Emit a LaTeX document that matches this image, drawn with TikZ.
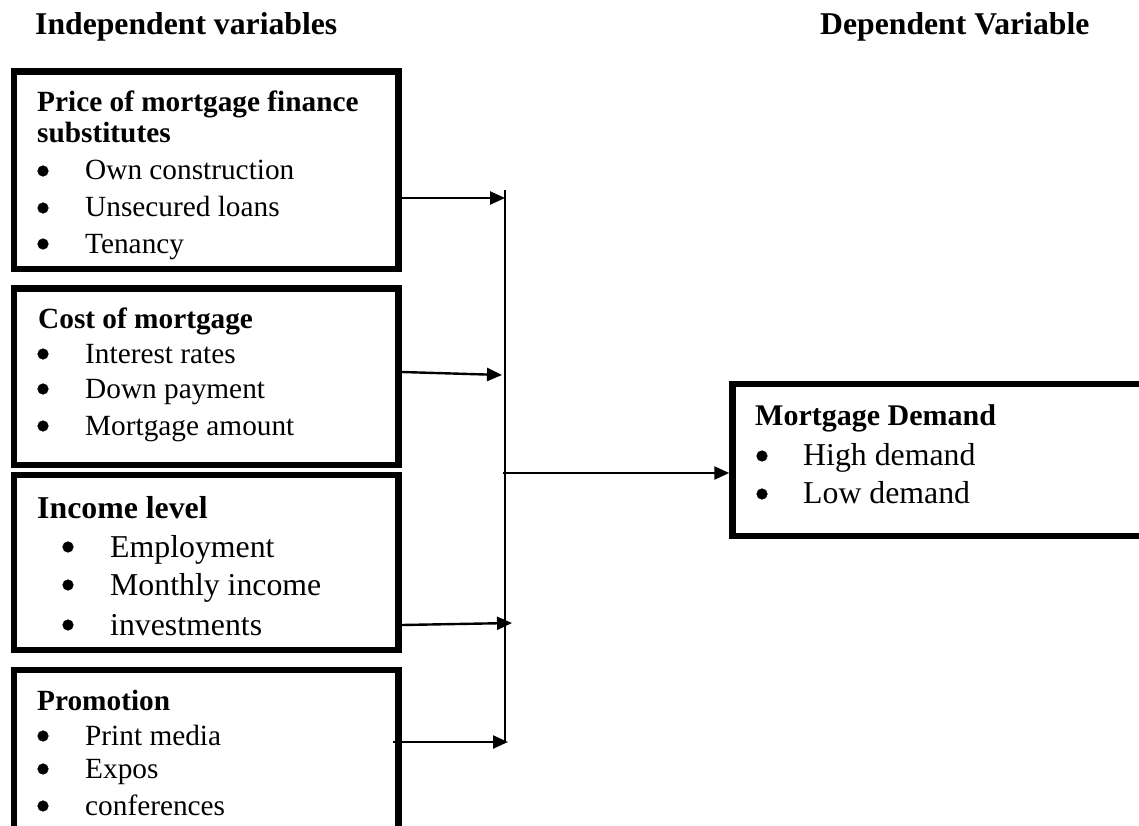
\documentclass[tikz,border=0pt]{standalone}
\usepackage{fontspec}
\setmainfont{Liberation Serif}
\usetikzlibrary{arrows.meta}
\tikzset{
  box/.style={draw=black, line width=6.5pt, inner sep=0pt, fill=none},
  txt/.style={inner sep=0pt, anchor=base west, font=\fontsize{29.3}{33}\selectfont},
  txtb/.style={txt, font=\fontsize{29.3}{33}\selectfont\bfseries},
  big/.style={inner sep=0pt, anchor=base west, font=\fontsize{31.8}{36}\selectfont},
  bigb/.style={big, font=\fontsize{31.8}{36}\selectfont\bfseries},
  head/.style={inner sep=0pt, anchor=base west, font=\fontsize{31.7}{36}\selectfont\bfseries},
  conn/.style={line width=2.4pt, -{Triangle[length=15pt,width=13pt]}},
  bus/.style={line width=1.6pt},
  bullet/.style={fill=black, draw=black, line width=0.5pt},
}
\newcommand{\bul}[2]{\path[bullet] (#1,#2) circle[radius=5.3pt];}
\begin{document}
\begin{tikzpicture}[x=1pt,y=-1pt]
\clip (0,0) rectangle (1139,826);
\fill[white] (0,0) rectangle (1139,826);

% headers
\node[head] (h1) at (35,35) {Independent variables};
\node[head] (h2) at (820,35) {Dependent Variable};

% boxes
\node[box, minimum width=384.5pt, minimum height=197.5pt] (b1) at (206.25,170.25) {};
\node[box, minimum width=384.5pt, minimum height=176.5pt] (b2) at (206.25,376.75) {};
\node[box, minimum width=384.5pt, minimum height=175pt] (b3) at (206.25,562.5) {};
\node[box, minimum width=384.5pt, minimum height=180pt] (b4) at (206.25,760) {};
\node[box, minimum width=417.5pt, minimum height=152pt] (d) at (941.25,460) {};

% box 1 text
\begin{scope}
\clip (17,75) rectangle (395,263);
\node[txtb] (t11) at (37,112) {Price of mortgage finance};
\node[txtb] (t12) at (37,143) {substitutes};
\node[txt] (t13) at (85,180) {Own construction};
\node[txt] (t14) at (85,217) {Unsecured loans};
\node[txt] (t15) at (85,253) {Tenancy};
\bul{43}{171}\bul{43}{208}\bul{43}{244}
\end{scope}

% box 2 text
\node[txtb] (t21) at (38,328) {Cost of mortgage};
\node[txt] (t22) at (85,363) {Interest rates};
\node[txt] (t23) at (85,398) {Down payment};
\node[txt] (t24) at (85,435) {Mortgage amount};
\bul{43}{354}\bul{43}{389}\bul{43}{426}

% box 3 text
\node[bigb] (t31) at (37,518) {Income level};
\node[big] (t32) at (110,557) {Employment};
\node[big] (t33) at (110,595) {Monthly income};
\node[big] (t34) at (110,635) {investments};
\bul{68}{547}\bul{68}{585}\bul{68}{625}

% box 4 text
\node[txtb] (t41) at (37,710) {Promotion};
\node[txt] (t42) at (85,745) {Print media};
\node[txt] (t43) at (85,778) {Expos};
\node[txt] (t44) at (85,815) {conferences};
\bul{43}{736}\bul{43}{769}\bul{43}{806}

% dependent box text
\node[inner sep=0pt, anchor=base west, font=\fontsize{30}{34}\selectfont\bfseries] (d1) at (755,425) {Mortgage Demand};
\node[big] (d2) at (803,465) {High demand};
\node[big] (d3) at (803,503) {Low demand};
\bul{762}{456}\bul{762}{494}

% connectors
\coordinate (bt) at (505,190);
\coordinate (bb) at (505,742);
\coordinate (e1) at (505,198);
\coordinate (e2) at (502,375);
\coordinate (e3) at (512,623);
\coordinate (e4) at (508,742);
\coordinate (j) at (503,473);
\draw[bus] (bt) -- (bb);
\draw[conn] (b1.east |- e1) -- (e1);
\draw[conn] (402,372) -- (e2);
\draw[conn] (402,625) -- (e3);
\draw[conn] (393,742) -- (e4);
\draw[conn] (j) -- (d.west |- j);
\end{tikzpicture}
\end{document}
